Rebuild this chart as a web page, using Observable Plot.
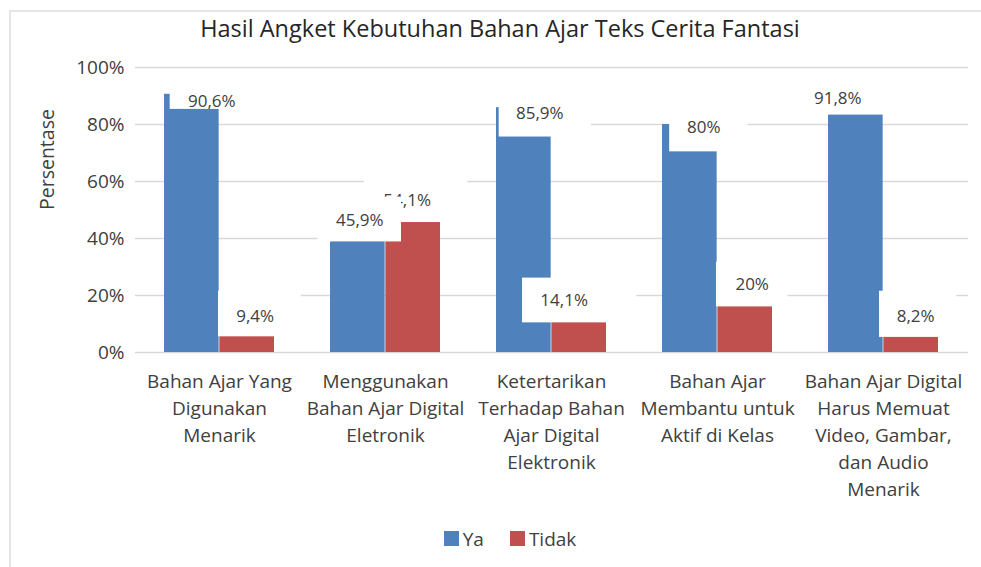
<!DOCTYPE html>
<html><head><meta charset="utf-8">
<script src="https://cdn.jsdelivr.net/npm/d3@7"></script>
<script src="https://cdn.jsdelivr.net/npm/@observablehq/plot@0.6"></script>
<style>
html,body{margin:0;padding:0;background:#fff;}
#wrap{position:relative;width:981px;height:567px;overflow:hidden;font-family:"Open Sans",sans-serif;color:#404040;}
#frame{position:absolute;left:9px;top:10px;right:-5px;bottom:-5px;border-left:2px solid #e6e6e6;border-top:2px solid #e6e6e6;}
#title{position:absolute;left:0;width:1000px;top:11px;height:34px;line-height:34px;text-align:center;font-size:23.5px;color:#262626;}
#chart{position:absolute;left:0;top:50px;}
#legend{position:absolute;left:0;width:1020px;top:522px;display:flex;justify-content:center;}
#legend .lg-swatches{font-family:"Open Sans",sans-serif !important;font-size:19px !important;color:#404040;margin:0 !important;min-height:33px !important;}
#legend .lg-swatch{margin-right:26px !important;}
#legend .lg-swatch:last-child{margin-right:0 !important;}
#legend .lg-swatch svg{margin-right:4px !important;}
</style>
</head><body>
<div id="wrap">
  <div id="frame"></div>
  <div id="title">Hasil Angket Kebutuhan Bahan Ajar Teks Cerita Fantasi</div>
  <div id="chart"></div>
  <div id="legend"></div>
</div>
<script>
// ---- data ----
const categories = [
  "Bahan Ajar Yang Digunakan Menarik",
  "Menggunakan Bahan Ajar Digital Eletronik",
  "Ketertarikan Terhadap Bahan Ajar Digital Elektronik",
  "Bahan Ajar Membantu untuk Aktif di Kelas",
  "Bahan Ajar Digital Harus Memuat Video, Gambar, dan Audio Menarik"
];
const categoryLabels = [
  "Bahan Ajar Yang\nDigunakan\nMenarik",
  "Menggunakan\nBahan Ajar Digital\nEletronik",
  "Ketertarikan\nTerhadap Bahan\nAjar Digital\nElektronik",
  "Bahan Ajar\nMembantu untuk\nAktif di Kelas",
  "Bahan Ajar Digital\nHarus Memuat\nVideo, Gambar,\ndan Audio\nMenarik"
];
const series = ["Ya", "Tidak"];
const ya = [90.6, 45.9, 85.9, 80, 91.8];
const tidak = [9.4, 54.1, 14.1, 20, 8.2];
const yTicks = [0, 20, 40, 60, 80, 100];

// ---- styling / layout ----
const colors = ["#4F81BD", "#C0504D"];
// manually placed data labels of the source chart (white-filled label boxes):
// [text dx px, text y %, box left px, box right px (from bar centre), box top %, box bottom %]
const labelLayout = {
  Ya: [
    [20, 87.9, -22, 62, 92.7, 85.3],
    [2, 46.4, -40, 44, 54.5, 38.8],
    [16, 83.9, -25, 68, 92.4, 75.6],
    [14, 78.8, -20.5, 58.5, 87.1, 70.4],
    [-18, 89.1, -64, 30, 95.2, 83.3]
  ],
  Tidak: [
    [8, 12.7, -29, 54.5, 21.5, 5.5],
    [-6, 53.4, -49, 55, 61.2, 45.6],
    [-15, 18.1, -57, 58, 26.1, 10.4],
    [7, 24.0, -29, 43, 31.7, 16.0],
    [4.5, 12.5, -32, 46, 21.5, 5.3]
  ]
};

const W = 981, ML = 135, MR = 13, PI = 0.335, PO = 0.17;
const step = (W - ML - MR) / (categories.length - PI + 2 * PO);
const bw = step * (1 - PI), half = bw / 2, q = bw / 4;

const rows = categories.flatMap((c, i) => [
  {category: c, series: "Ya", value: ya[i], i},
  {category: c, series: "Tidak", value: tidak[i], i}
]);
const fmt = v => String(v).replace(".", ",") + "%";

const labelMarks = [];
for (const s of ["Tidak", "Ya"]) {
  rows.filter(r => r.series === s).forEach(r => {
    const [tdx, ty, bl, br, bt, bb] = labelLayout[s][r.i];
    const c = s === "Ya" ? -q : q;
    labelMarks.push(Plot.barY([r], {
      x: "category", y1: () => bb, y2: () => bt, fill: "white",
      insetLeft: half + c + bl, insetRight: half - c - br
    }));
    labelMarks.push(Plot.text([r], {
      x: "category", y: () => ty, text: d => fmt(d.value),
      dx: c + tdx, fontSize: 17, fill: "#404040"
    }));
  });
}

const chart = Plot.plot({
  width: W, height: 460,
  marginLeft: ML, marginRight: MR, marginTop: 17, marginBottom: 158,
  style: {fontFamily: '"Open Sans", sans-serif', fontSize: "19px", color: "#404040", background: "transparent"},
  x: {domain: categories, paddingInner: PI, paddingOuter: PO, axis: null},
  y: {domain: [0, 100], axis: null},
  color: {domain: series, range: colors},
  marks: [
    Plot.gridY(yTicks, {stroke: "#d9d9d9", strokeOpacity: 1, strokeWidth: 1.5}),
    Plot.barY(rows.filter(r => r.series === "Ya"), {x: "category", y: "value", fill: "series", insetRight: half}),
    Plot.barY(rows.filter(r => r.series === "Tidak"), {x: "category", y: "value", fill: "series", insetLeft: half}),
    ...labelMarks,
    Plot.axisY(yTicks, {tickSize: 0, tickPadding: 11, tickFormat: d => d + "%", fontSize: 19, label: null}),
    Plot.axisX({tickSize: 0, tickPadding: 16, tickFormat: c => categoryLabels[categories.indexOf(c)], lineHeight: 1.42, fontSize: 19, label: null}),
    Plot.text(["Persentase"], {text: d => d, frameAnchor: "left", rotate: -90, dx: -88, fontSize: 19.5, fill: "#404040"})
  ]
});
document.getElementById("chart").appendChild(chart);

const legend = Plot.legend({color: {domain: series, range: colors}, swatchSize: 15, className: "lg"});
document.getElementById("legend").appendChild(legend);
</script>
</body></html>
